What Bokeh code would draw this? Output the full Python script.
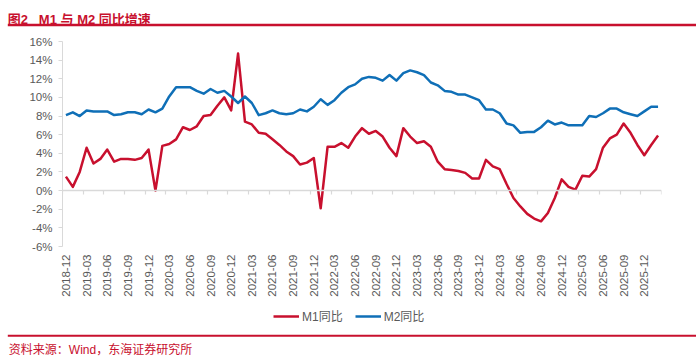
import math
import pandas as pd
from bokeh.plotting import figure
from bokeh.models import (Range1d, LinearAxis, FixedTicker, PrintfTickFormatter,
                          Legend, LegendItem, Label, BoxAnnotation, ColumnDataSource)
from bokeh.layouts import column
from bokeh.embed import file_html
from bokeh.resources import INLINE

# ---------------- data ----------------
months = [str(p) for p in pd.period_range("2018-12", "2026-02", freq="M")]

m1_yoy = [1.5,
          0.4, 2.0, 4.6, 2.9, 3.4, 4.4, 3.1, 3.4, 3.4, 3.3, 3.5, 4.4,
          0.0, 4.8, 5.0, 5.5, 6.8, 6.5, 6.9, 8.0, 8.1, 9.1, 10.0, 8.6,
          14.7, 7.4, 7.1, 6.2, 6.1, 5.5, 4.9, 4.2, 3.7, 2.8, 3.0, 3.5,
          -1.9, 4.7, 4.7, 5.1, 4.6, 5.8, 6.7, 6.1, 6.4, 5.8, 4.6, 3.7,
          6.7, 5.8, 5.1, 5.3, 4.7, 3.1, 2.3, 2.2, 2.1, 1.9, 1.3, 1.3,
          3.3, 2.6, 2.3, 0.7, -0.8, -1.7, -2.5, -3.0, -3.3, -2.4, -0.8, 1.2,
          0.4, 0.1, 1.6, 1.5, 2.3, 4.6, 5.6, 6.0, 7.2, 6.2, 4.9, 3.8,
          4.9, 5.9]

m2_yoy = [8.1,
          8.4, 8.0, 8.6, 8.5, 8.5, 8.5, 8.1, 8.2, 8.4, 8.4, 8.2, 8.7,
          8.4, 8.8, 10.1, 11.1, 11.1, 11.1, 10.7, 10.4, 10.9, 10.5, 10.7, 10.1,
          9.4, 10.1, 9.4, 8.1, 8.3, 8.6, 8.3, 8.2, 8.3, 8.7, 8.5, 9.0,
          9.8, 9.2, 9.7, 10.5, 11.1, 11.4, 12.0, 12.2, 12.1, 11.8, 12.4, 11.8,
          12.6, 12.9, 12.7, 12.4, 11.6, 11.3, 10.7, 10.6, 10.3, 10.3, 10.0, 9.7,
          8.7, 8.7, 8.3, 7.2, 7.0, 6.2, 6.3, 6.3, 6.8, 7.5, 7.1, 7.3,
          7.0, 7.0, 7.0, 8.0, 7.9, 8.3, 8.8, 8.8, 8.4, 8.2, 8.0, 8.5,
          9.0, 9.0]

tick_labels = ["2018-12", "2019-03", "2019-06", "2019-09", "2019-12",
               "2020-03", "2020-06", "2020-09", "2020-12",
               "2021-03", "2021-06", "2021-09", "2021-12",
               "2022-03", "2022-06", "2022-09", "2022-12",
               "2023-03", "2023-06", "2023-09", "2023-12",
               "2024-03", "2024-06", "2024-09", "2024-12",
               "2025-03", "2025-06", "2025-09", "2025-12"]

y_ticks = list(range(-6, 17, 2))

series_names = ["M1同比", "M2同比"]
title_text = "图2\u00a0\u00a0 M1 与 M2 同比增速"
source_text = "资料来源：Wind，东海证券研究所"

# ---------------- style ----------------
W = 696
HA, HB, HL, HC = 28, 280, 22, 29
RED = "#C8102E"
BLUE = "#0F6FB7"
TXT = "#595959"
AXIS = "#D9D9D9"
FONT = "'Liberation Sans', 'Noto Sans CJK SC'"


def no_align(f):
    if "frame_align" in f.properties():
        f.frame_align = False
    return f


def strip(height, xr=None, yr=None):
    f = figure(width=W, height=height,
               x_range=xr if xr is not None else Range1d(0, W),
               y_range=yr if yr is not None else Range1d(0, height),
               output_backend="svg", toolbar_location=None, min_border=0,
               x_axis_location=None, y_axis_location=None)
    f.grid.visible = False
    f.outline_line_color = None
    return no_align(f)


idx = list(range(len(months)))
src = ColumnDataSource(dict(x=idx, m1=m1_yoy, m2=m2_yoy))
line_style = [dict(line_color=RED, line_width=2.5, line_join="round"),
              dict(line_color=BLUE, line_width=2.5, line_join="round")]

# ---------- title strip ----------
fa = strip(HA)
fa.add_layout(Label(x=7.3, y=8.6, text=title_text, text_font=FONT, text_font_size="13px",
                    text_font_style="bold", text_color=RED, text_baseline="alphabetic"))
fa.add_layout(BoxAnnotation(left=7.3, bottom=2.3, top=4.7, fill_color=RED, fill_alpha=1,
                            line_color=None))

# ---------- main chart ----------
p = figure(width=W, height=HB, x_range=Range1d(-0.5, len(months) - 0.5),
           y_range=Range1d(y_ticks[0], y_ticks[-1]),
           output_backend="svg", toolbar_location=None,
           min_border_left=62, min_border_right=35, min_border_top=13, min_border_bottom=62)
no_align(p)
p.grid.visible = False
p.outline_line_color = None

p.line("x", "m1", source=src, **line_style[0])
p.line("x", "m2", source=src, **line_style[1])

ya = p.yaxis[0]
ya.ticker = FixedTicker(ticks=y_ticks)
ya.formatter = PrintfTickFormatter(format="%d%%")
ya.axis_line_color = AXIS
ya.major_tick_line_color = AXIS
ya.major_tick_out = 4
ya.major_tick_in = 0
ya.minor_tick_line_color = None
ya.major_label_text_color = TXT
ya.major_label_text_font = FONT
ya.major_label_text_font_size = "11.5px"
ya.major_label_standoff = 6

xa = p.xaxis[0]
label_pos = [months.index(t) for t in tick_labels]
xa.ticker = FixedTicker(ticks=label_pos)
xa.major_label_overrides = {pos: t for pos, t in zip(label_pos, tick_labels)}
xa.major_label_orientation = math.pi / 2
xa.axis_line_color = None
xa.major_tick_line_color = None
xa.major_tick_out = 0
xa.major_tick_in = 0
xa.minor_tick_line_color = None
xa.major_label_text_color = TXT
xa.major_label_text_font = FONT
xa.major_label_text_font_size = "11.5px"
xa.major_label_standoff = 8

bounds = [k * 3 - 0.5 for k in range(len(months) // 3 + 1)]
za = LinearAxis(fixed_location=0, ticker=FixedTicker(ticks=bounds),
                axis_line_color=AXIS, axis_line_width=1.5,
                major_tick_line_color=AXIS, major_tick_line_width=1.2,
                major_tick_out=4, major_tick_in=0, minor_tick_line_color=None,
                major_label_overrides={b: "" for b in bounds},
                major_label_text_font_size="0px", major_label_standoff=0)
p.add_layout(za, "below")

# ---------- legend strip (series drawn out of its view; only the key shows) ----------
fl = strip(HL, xr=Range1d(-200, -199), yr=Range1d(0, HL))
k1 = fl.line("x", "m1", source=src, **line_style[0])
k2 = fl.line("x", "m2", source=src, **line_style[1])
legend = Legend(items=[LegendItem(label=series_names[0], renderers=[k1]),
                       LegendItem(label=series_names[1], renderers=[k2])],
                orientation="horizontal", location=(273, 6),
                label_text_font=FONT, label_text_font_size="12px", label_text_color=TXT,
                glyph_width=26, glyph_height=14, label_height=14, label_standoff=3, spacing=12,
                padding=0, margin=0, border_line_color=None, background_fill_alpha=0)
fl.add_layout(legend, "center")

# ---------- source strip ----------
fc = strip(HC)
fc.add_layout(BoxAnnotation(left=7.3, bottom=22.8, top=24.8, fill_color=RED, fill_alpha=1,
                            line_color=None))
fc.add_layout(Label(x=8.3, y=10, text=source_text, text_font=FONT, text_font_size="12px",
                    text_color=RED, text_baseline="alphabetic"))

layout = column(fa, p, fl, fc, spacing=0)
open("out.html", "w").write(file_html(layout, INLINE))
